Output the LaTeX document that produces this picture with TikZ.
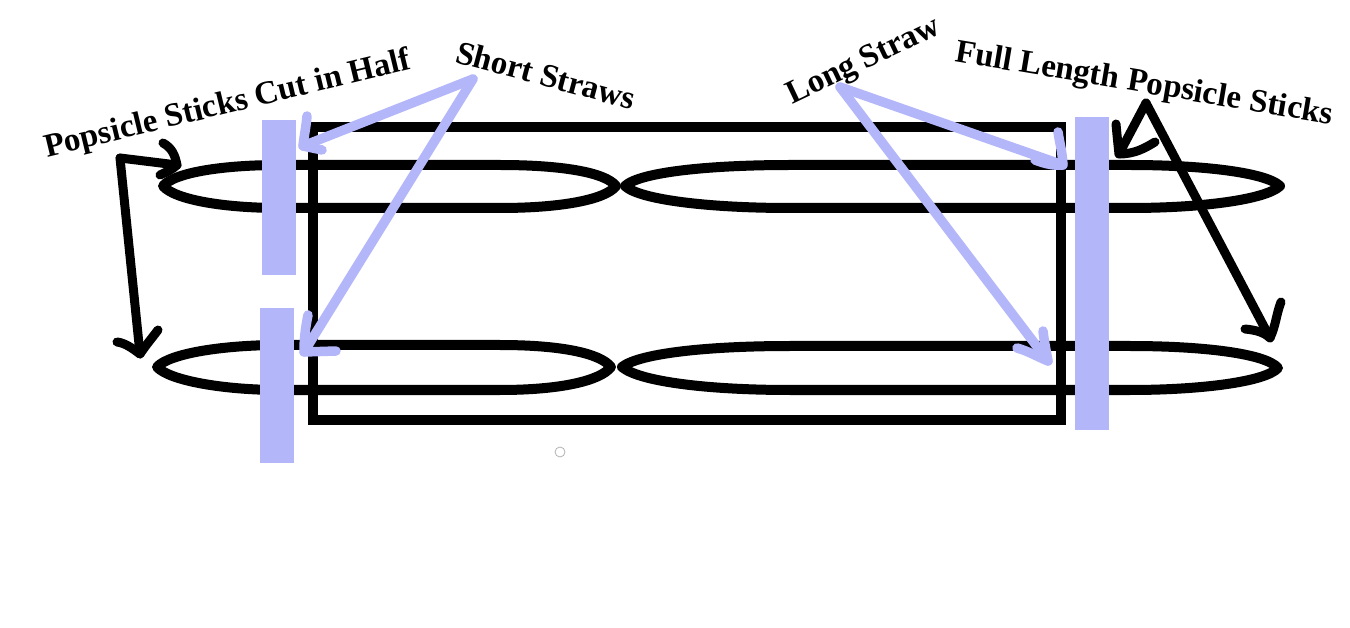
\documentclass[tikz,border=0pt]{standalone}
\usepackage{fontspec}
\setmainfont{Liberation Serif}
\definecolor{lav}{HTML}{B3B7F9}
\tikzset{
 blk/.style={draw=black,line width=10pt,line join=round,line cap=round},
 frame/.style={draw=black,line width=9.5pt},
 arrowb/.style={draw=black,line width=9pt,line join=round,line cap=round},
 arrowl/.style={draw=lav,line width=9.5pt,line join=round,line cap=round},
 lab/.style={font=\bfseries\fontsize{33}{36}\selectfont,inner sep=0pt}
}
\begin{document}
\begin{tikzpicture}[x=1pt,y=-1pt]
\useasboundingbox (0,0) rectangle (1350,628);
\fill[white] (0,0) rectangle (1350,628);
\draw[frame] (313,127) rectangle (1061,420);
% ovals
\draw[blk] (163,186) .. controls (175,172) and (225,165) .. (280,165) -- (500,165) .. controls (560,165) and (605,172) .. (616,186) .. controls (605,200) and (560,208) .. (500,208) -- (280,208) .. controls (225,208) and (175,200) .. (163,186) -- cycle;
\draw[blk] (625,186) .. controls (640,172) and (710,165) .. (790,165) -- (1130,165) .. controls (1200,165) and (1265,172) .. (1280,186) .. controls (1265,200) and (1200,208) .. (1130,208) -- (790,208) .. controls (710,208) and (640,200) .. (625,186) -- cycle;
\draw[blk] (157,367) .. controls (170,353) and (225,345) .. (280,345) -- (500,345) .. controls (560,345) and (600,353) .. (611,367) .. controls (600,381) and (560,390) .. (500,390) -- (280,390) .. controls (225,390) and (170,381) .. (157,367) -- cycle;
\draw[blk] (622,367) .. controls (640,353) and (710,346) .. (790,346) -- (1130,346) .. controls (1200,346) and (1265,353) .. (1278,368) .. controls (1265,382) and (1200,390) .. (1130,390) -- (790,390) .. controls (710,390) and (640,382) .. (622,367) -- cycle;
% bars
\fill[lav] (262,120) rectangle (296,275);
\fill[lav] (260,308) rectangle (294,463);
\fill[lav] (1075,117) rectangle (1109,430);
% lavender arrows
\coordinate (ss) at (473,79);
\coordinate (ls) at (840,87);
\coordinate (a1) at (303,146);
\coordinate (a2) at (304,352);
\coordinate (a3) at (1063,165);
\coordinate (a4) at (1048,361);
\draw[arrowl] (ss) -- (a1);
\draw[arrowl] (307,116) .. controls (306,128) and (304,136) .. (a1) -- (322,150);
\draw[arrowl] (ss) -- (a2);
\draw[arrowl] (308,315) .. controls (305,330) and (304,340) .. (a2) -- (336,351);
\draw[arrowl] (ls) -- (a3);
\draw[arrowl] (1035,160) .. controls (1045,164) and (1055,166) .. (a3) .. controls (1062,150) and (1060,145) .. (1058,132);
\draw[arrowl] (ls) -- (a4);
\draw[arrowl] (1017,348) .. controls (1028,351) and (1038,357) .. (a4) .. controls (1046,350) and (1044,340) .. (1043,331);
% black arrows
\coordinate (pb) at (120,158);
\coordinate (b1) at (177,165);
\coordinate (b2) at (140,354);
\coordinate (fb) at (1146,103);
\coordinate (b3) at (1119,154);
\coordinate (b4) at (1270,338);
\draw[arrowb] (pb) -- (b1);
\draw[arrowb] (163,143) .. controls (172,148) and (175,155) .. (b1) .. controls (172,170) and (166,172) .. (160,175);
\draw[arrowb] (pb) -- (b2);
\draw[arrowb] (117,342) .. controls (125,343) and (132,348) .. (b2) .. controls (146,345) and (152,338) .. (158,330);
\draw[arrowb] (fb) -- (b3);
\draw[arrowb] (1116,124) .. controls (1117,135) and (1118,145) .. (b3) .. controls (1135,154) and (1145,148) .. (1155,142);
\draw[arrowb] (fb) -- (b4);
\draw[arrowb] (1245,329) .. controls (1255,330) and (1264,332) .. (b4) .. controls (1276,325) and (1276,315) .. (1281,302);
% small circle
\node[circle,draw=black!30,line width=0.8pt,minimum size=10pt,inner sep=0pt] (dot) at (560,452) {};
% labels
\node[lab,rotate=13.6] (t1) at (228,105) {Popsicle Sticks Cut in Half};
\node[lab,rotate=-15] (t2) at (546,75) {Short Straws};
\node[lab,rotate=25.5] (t3) at (864,62) {Long Straw};
\node[lab,rotate=-9.5] (t4) at (1144,85) {Full Length Popsicle Sticks};
\end{tikzpicture}
\end{document}
